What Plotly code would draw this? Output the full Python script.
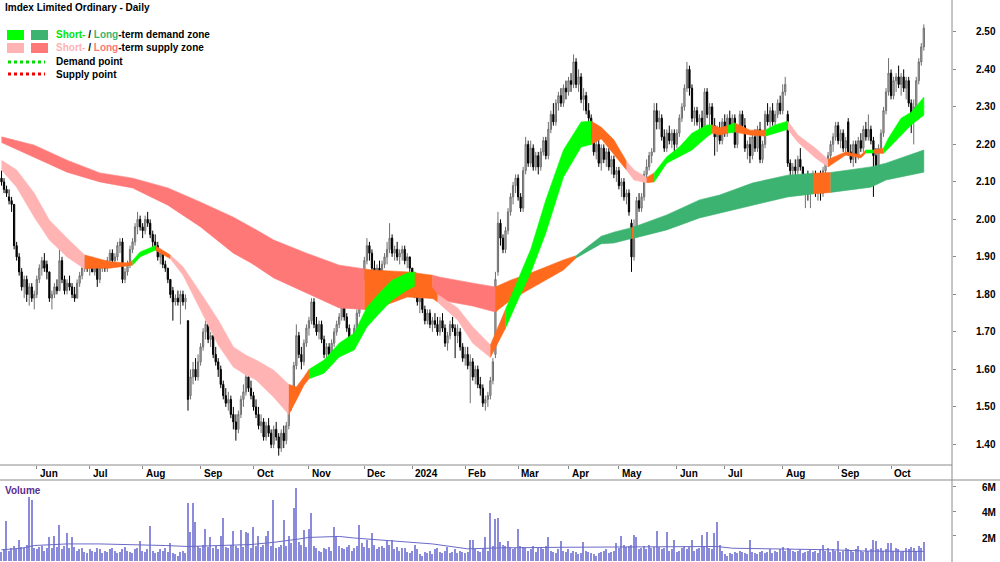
import plotly.graph_objects as go
import pandas as pd

# ---------------- DATA ----------------
# Daily OHLC (A$), trading days from 12 May 2023 to 18 Oct 2024
opens = [
    # May 2023 (from 12th)
    2.11, 2.10, 2.08, 2.06, 2.05, 2.04, 1.93, 1.90, 1.86, 1.82, 1.84, 1.80, 1.82, 1.79,
    # Jun 2023
    1.80, 1.84, 1.87, 1.89, 1.88, 1.86, 1.79, 1.80, 1.82, 1.81, 1.89, 1.84, 1.81, 1.83, 1.82, 1.80, 1.79, 1.83, 1.85, 1.87, 1.89,
    # Jul 2023
    1.87, 1.88, 1.86, 1.87, 1.84, 1.87, 1.88, 1.87, 1.89, 1.91, 1.89, 1.90, 1.93, 1.94, 1.84, 1.86, 1.88, 1.92, 1.94, 1.98, 2.00,
    # Aug 2023
    1.98, 1.97, 2.00, 1.99, 1.96, 1.94, 1.93, 1.90, 1.91, 1.88, 1.87, 1.84, 1.81, 1.78, 1.79, 1.78, 1.80, 1.78, 1.73, 1.53, 1.58, 1.60, 1.58,
    # Sep 2023
    1.62, 1.66, 1.70, 1.72, 1.68, 1.69, 1.64, 1.62, 1.60, 1.56, 1.53, 1.51, 1.52, 1.48, 1.46, 1.44, 1.48, 1.52, 1.54, 1.58, 1.55,
    # Oct 2023
    1.53, 1.50, 1.48, 1.45, 1.46, 1.42, 1.45, 1.43, 1.40, 1.44, 1.42, 1.39, 1.43, 1.41, 1.45, 1.50, 1.53, 1.61, 1.69, 1.64, 1.62, 1.67,
    # Nov 2023
    1.71, 1.73, 1.78, 1.72, 1.70, 1.72, 1.68, 1.64, 1.66, 1.64, 1.67, 1.70, 1.72, 1.74, 1.77, 1.74, 1.71, 1.67, 1.68, 1.71, 1.75, 1.79,
    # Dec 2023
    1.85, 1.89, 1.93, 1.91, 1.87, 1.85, 1.87, 1.85, 1.88, 1.90, 1.92, 1.95, 1.91, 1.92, 1.90, 1.91, 1.92, 1.89, 1.90,
    # Jan 2024
    1.87, 1.82, 1.80, 1.78, 1.79, 1.76, 1.73, 1.75, 1.72, 1.73, 1.72, 1.70, 1.73, 1.71, 1.67, 1.69, 1.72, 1.71, 1.69, 1.70, 1.66,
    # Feb 2024
    1.63, 1.64, 1.61, 1.62, 1.58, 1.60, 1.56, 1.55, 1.51, 1.52, 1.53, 1.57, 1.64, 1.86, 1.99, 1.95, 1.92, 1.97, 2.02, 2.06, 2.09,
    # Mar 2024
    2.11, 2.06, 2.03, 2.13, 2.20, 2.15, 2.19, 2.14, 2.17, 2.14, 2.18, 2.21, 2.17, 2.24, 2.28, 2.26, 2.31, 2.33, 2.31, 2.35,
    # Apr 2024
    2.34, 2.37, 2.36, 2.42, 2.36, 2.38, 2.32, 2.33, 2.29, 2.27, 2.22, 2.18, 2.20, 2.15, 2.19, 2.16, 2.18, 2.14, 2.16, 2.12,
    # May 2024
    2.13, 2.09, 2.10, 2.06, 2.07, 1.99, 1.90, 1.98, 2.05, 2.03, 2.06, 2.12, 2.14, 2.17, 2.18, 2.29, 2.26, 2.27, 2.22, 2.19, 2.23, 2.21, 2.23,
    # Jun 2024
    2.20, 2.23, 2.27, 2.30, 2.35, 2.40, 2.35, 2.27, 2.29, 2.26, 2.27, 2.24, 2.34, 2.28, 2.30, 2.25, 2.22, 2.24, 2.21,
    # Jul 2024
    2.26, 2.23, 2.27, 2.25, 2.27, 2.20, 2.24, 2.28, 2.25, 2.19, 2.20, 2.17, 2.22, 2.19, 2.24, 2.16, 2.20, 2.28, 2.26, 2.29, 2.26, 2.28, 2.31,
    # Aug 2024
    2.29, 2.34, 2.28, 2.15, 2.13, 2.14, 2.13, 2.16, 2.14, 2.08, 2.10, 2.07, 2.09, 2.12, 2.08, 2.11, 2.07, 2.13, 2.15, 2.17, 2.20, 2.22,
    # Sep 2024
    2.25, 2.21, 2.23, 2.19, 2.26, 2.18, 2.16, 2.20, 2.17, 2.21, 2.19, 2.24, 2.22, 2.24, 2.21, 2.17, 2.14, 2.19, 2.23, 2.29, 2.34,
    # Oct 2024
    2.39, 2.33, 2.37, 2.38, 2.36, 2.38, 2.35, 2.37, 2.31, 2.28, 2.30, 2.37, 2.42, 2.46,
]
highs = [
    2.13, 2.11, 2.09, 2.08, 2.06, 2.04, 1.94, 1.91, 1.87, 1.85, 1.85, 1.83, 1.83, 1.81,
    1.85, 1.88, 1.90, 1.91, 1.89, 1.86, 1.81, 1.83, 1.84, 1.92, 1.90, 1.85, 1.84, 1.85, 1.83, 1.82, 1.84, 1.86, 1.88, 1.90, 1.90,
    1.89, 1.90, 1.89, 1.87, 1.88, 1.89, 1.89, 1.90, 1.92, 1.92, 1.91, 1.94, 1.95, 1.95, 1.87, 1.89, 1.93, 1.95, 1.99, 2.02, 2.01,
    1.99, 2.01, 2.02, 2.00, 1.97, 1.96, 1.94, 1.92, 1.91, 1.89, 1.87, 1.84, 1.82, 1.80, 1.81, 1.81, 1.81, 1.80, 1.73, 1.60, 1.62, 1.63, 1.64,
    1.67, 1.71, 1.73, 1.73, 1.70, 1.69, 1.66, 1.63, 1.61, 1.57, 1.55, 1.54, 1.53, 1.50, 1.48, 1.49, 1.53, 1.56, 1.59, 1.59, 1.57,
    1.54, 1.52, 1.50, 1.48, 1.47, 1.46, 1.47, 1.44, 1.45, 1.46, 1.43, 1.44, 1.45, 1.46, 1.51, 1.54, 1.62, 1.72, 1.70, 1.66, 1.68, 1.72,
    1.74, 1.79, 1.79, 1.74, 1.73, 1.73, 1.69, 1.67, 1.67, 1.68, 1.71, 1.73, 1.75, 1.79, 1.78, 1.75, 1.72, 1.69, 1.72, 1.76, 1.80, 1.86,
    1.90, 1.95, 1.94, 1.92, 1.89, 1.88, 1.89, 1.89, 1.91, 1.94, 1.99, 1.96, 1.93, 1.94, 1.92, 1.93, 1.93, 1.91, 1.90,
    1.87, 1.83, 1.82, 1.80, 1.80, 1.77, 1.76, 1.76, 1.74, 1.75, 1.74, 1.74, 1.75, 1.72, 1.70, 1.73, 1.74, 1.72, 1.72, 1.71, 1.67,
    1.66, 1.66, 1.64, 1.63, 1.61, 1.61, 1.58, 1.56, 1.53, 1.54, 1.58, 1.63, 1.86, 2.02, 2.00, 1.96, 1.98, 2.03, 2.07, 2.10, 2.12,
    2.12, 2.07, 2.14, 2.22, 2.21, 2.21, 2.20, 2.18, 2.18, 2.19, 2.22, 2.22, 2.26, 2.29, 2.31, 2.32, 2.34, 2.35, 2.36, 2.37,
    2.38, 2.39, 2.44, 2.43, 2.40, 2.39, 2.35, 2.34, 2.31, 2.28, 2.24, 2.21, 2.22, 2.20, 2.20, 2.19, 2.19, 2.17, 2.17, 2.14,
    2.14, 2.11, 2.11, 2.08, 2.08, 2.00, 2.00, 2.06, 2.07, 2.07, 2.13, 2.16, 2.18, 2.19, 2.31, 2.31, 2.29, 2.28, 2.24, 2.24, 2.25, 2.24, 2.24,
    2.24, 2.28, 2.31, 2.36, 2.42, 2.41, 2.36, 2.30, 2.30, 2.28, 2.29, 2.35, 2.35, 2.31, 2.31, 2.27, 2.25, 2.26, 2.27,
    2.28, 2.28, 2.29, 2.28, 2.28, 2.25, 2.29, 2.29, 2.27, 2.21, 2.22, 2.23, 2.24, 2.25, 2.26, 2.21, 2.29, 2.31, 2.30, 2.31, 2.29, 2.32, 2.33,
    2.36, 2.38, 2.29, 2.16, 2.15, 2.16, 2.17, 2.19, 2.14, 2.12, 2.13, 2.11, 2.13, 2.13, 2.12, 2.13, 2.14, 2.16, 2.18, 2.21, 2.23, 2.26,
    2.26, 2.24, 2.24, 2.22, 2.27, 2.20, 2.21, 2.21, 2.22, 2.23, 2.25, 2.26, 2.28, 2.25, 2.22, 2.19, 2.20, 2.24, 2.30, 2.35, 2.43,
    2.40, 2.38, 2.39, 2.41, 2.39, 2.40, 2.38, 2.38, 2.32, 2.32, 2.38, 2.43, 2.47, 2.52,
]
lows = [
    2.09, 2.07, 2.06, 2.04, 2.02, 1.92, 1.89, 1.85, 1.81, 1.79, 1.78, 1.77, 1.78, 1.76,
    1.79, 1.83, 1.85, 1.86, 1.84, 1.78, 1.76, 1.79, 1.80, 1.81, 1.83, 1.80, 1.80, 1.81, 1.79, 1.78, 1.79, 1.82, 1.84, 1.86, 1.86,
    1.85, 1.86, 1.85, 1.82, 1.83, 1.86, 1.86, 1.86, 1.88, 1.88, 1.88, 1.89, 1.91, 1.83, 1.83, 1.85, 1.87, 1.91, 1.93, 1.96, 1.97,
    1.95, 1.96, 1.98, 1.95, 1.92, 1.92, 1.89, 1.88, 1.87, 1.86, 1.83, 1.79, 1.73, 1.77, 1.77, 1.72, 1.77, 1.76, 1.49, 1.52, 1.56, 1.57, 1.57,
    1.61, 1.65, 1.68, 1.67, 1.66, 1.63, 1.61, 1.58, 1.55, 1.52, 1.50, 1.49, 1.47, 1.44, 1.41, 1.43, 1.47, 1.50, 1.53, 1.54, 1.52,
    1.49, 1.47, 1.44, 1.43, 1.41, 1.41, 1.42, 1.39, 1.39, 1.41, 1.37, 1.38, 1.39, 1.40, 1.44, 1.49, 1.52, 1.60, 1.63, 1.60, 1.61, 1.66,
    1.69, 1.72, 1.71, 1.69, 1.68, 1.67, 1.63, 1.63, 1.63, 1.63, 1.66, 1.69, 1.71, 1.73, 1.73, 1.70, 1.66, 1.65, 1.67, 1.70, 1.74, 1.78,
    1.84, 1.88, 1.89, 1.86, 1.84, 1.84, 1.84, 1.84, 1.87, 1.88, 1.91, 1.90, 1.89, 1.89, 1.88, 1.89, 1.88, 1.87, 1.86,
    1.81, 1.79, 1.77, 1.75, 1.75, 1.72, 1.72, 1.71, 1.70, 1.71, 1.69, 1.69, 1.70, 1.66, 1.65, 1.68, 1.70, 1.63, 1.67, 1.65, 1.62,
    1.61, 1.60, 1.51, 1.57, 1.56, 1.55, 1.53, 1.50, 1.49, 1.50, 1.52, 1.56, 1.63, 1.85, 1.93, 1.91, 1.91, 1.96, 2.01, 2.04, 2.07,
    2.05, 2.02, 2.02, 2.12, 2.14, 2.14, 2.13, 2.13, 2.12, 2.13, 2.17, 2.16, 2.16, 2.23, 2.25, 2.25, 2.29, 2.30, 2.30, 2.32,
    2.33, 2.34, 2.35, 2.35, 2.34, 2.31, 2.29, 2.28, 2.26, 2.21, 2.17, 2.16, 2.14, 2.13, 2.15, 2.14, 2.13, 2.12, 2.11, 2.10,
    2.08, 2.06, 2.05, 2.04, 2.01, 1.86, 1.89, 1.97, 2.02, 2.02, 2.05, 2.11, 2.13, 2.15, 2.18, 2.24, 2.24, 2.21, 2.18, 2.18, 2.20, 2.19, 2.18,
    2.19, 2.22, 2.26, 2.29, 2.34, 2.33, 2.26, 2.25, 2.25, 2.23, 2.23, 2.23, 2.27, 2.25, 2.24, 2.17, 2.18, 2.20, 2.20,
    2.22, 2.22, 2.24, 2.23, 2.19, 2.19, 2.23, 2.24, 2.18, 2.16, 2.15, 2.16, 2.18, 2.18, 2.15, 2.15, 2.19, 2.25, 2.24, 2.25, 2.25, 2.27, 2.28,
    2.28, 2.33, 2.14, 2.10, 2.07, 2.11, 2.12, 2.13, 2.07, 2.03, 2.05, 2.03, 2.07, 2.06, 2.05, 2.05, 2.06, 2.12, 2.14, 2.16, 2.18, 2.21,
    2.20, 2.19, 2.18, 2.17, 2.17, 2.15, 2.14, 2.15, 2.16, 2.18, 2.18, 2.21, 2.21, 2.20, 2.06, 2.12, 2.13, 2.18, 2.22, 2.28, 2.33,
    2.32, 2.32, 2.34, 2.35, 2.33, 2.34, 2.32, 2.30, 2.23, 2.20, 2.29, 2.36, 2.41, 2.45,
]
closes = [
    2.10, 2.08, 2.07, 2.05, 2.04, 1.93, 1.90, 1.86, 1.82, 1.84, 1.80, 1.82, 1.79, 1.80,
    1.84, 1.87, 1.89, 1.87, 1.86, 1.79, 1.80, 1.82, 1.81, 1.89, 1.84, 1.81, 1.83, 1.82, 1.80, 1.79, 1.83, 1.85, 1.87, 1.89, 1.87,
    1.88, 1.86, 1.88, 1.84, 1.87, 1.88, 1.87, 1.89, 1.91, 1.89, 1.90, 1.93, 1.94, 1.84, 1.86, 1.88, 1.92, 1.94, 1.98, 2.00, 1.98,
    1.97, 2.00, 1.99, 1.96, 1.94, 1.93, 1.90, 1.91, 1.88, 1.87, 1.84, 1.80, 1.78, 1.79, 1.78, 1.80, 1.78, 1.79, 1.52, 1.58, 1.60, 1.58, 1.62,
    1.66, 1.70, 1.72, 1.68, 1.69, 1.64, 1.62, 1.60, 1.56, 1.53, 1.51, 1.52, 1.48, 1.46, 1.44, 1.48, 1.52, 1.54, 1.58, 1.55, 1.53,
    1.50, 1.48, 1.45, 1.46, 1.42, 1.45, 1.43, 1.40, 1.44, 1.42, 1.39, 1.43, 1.41, 1.45, 1.50, 1.53, 1.61, 1.69, 1.64, 1.62, 1.67, 1.71,
    1.73, 1.78, 1.72, 1.70, 1.72, 1.68, 1.64, 1.66, 1.64, 1.67, 1.70, 1.72, 1.74, 1.77, 1.74, 1.71, 1.67, 1.68, 1.71, 1.75, 1.79, 1.85,
    1.89, 1.93, 1.91, 1.87, 1.85, 1.87, 1.85, 1.88, 1.90, 1.92, 1.95, 1.91, 1.92, 1.90, 1.91, 1.92, 1.89, 1.90, 1.87,
    1.82, 1.80, 1.78, 1.79, 1.76, 1.73, 1.75, 1.72, 1.73, 1.72, 1.70, 1.73, 1.71, 1.67, 1.69, 1.72, 1.71, 1.69, 1.70, 1.66, 1.63,
    1.64, 1.61, 1.62, 1.58, 1.60, 1.56, 1.55, 1.51, 1.52, 1.53, 1.57, 1.62, 1.84, 1.99, 1.95, 1.92, 1.97, 2.02, 2.06, 2.09, 2.11,
    2.06, 2.03, 2.13, 2.20, 2.15, 2.19, 2.14, 2.17, 2.14, 2.18, 2.21, 2.17, 2.24, 2.28, 2.26, 2.31, 2.33, 2.31, 2.35, 2.34,
    2.37, 2.36, 2.42, 2.36, 2.38, 2.32, 2.33, 2.29, 2.27, 2.22, 2.18, 2.20, 2.15, 2.19, 2.16, 2.18, 2.14, 2.16, 2.12, 2.13,
    2.09, 2.10, 2.06, 2.07, 2.02, 1.90, 1.98, 2.05, 2.03, 2.06, 2.12, 2.14, 2.17, 2.18, 2.29, 2.26, 2.27, 2.22, 2.19, 2.23, 2.21, 2.23, 2.20,
    2.23, 2.27, 2.30, 2.35, 2.40, 2.35, 2.27, 2.29, 2.26, 2.27, 2.24, 2.34, 2.28, 2.30, 2.25, 2.22, 2.24, 2.21, 2.26,
    2.23, 2.27, 2.25, 2.27, 2.20, 2.24, 2.28, 2.25, 2.19, 2.20, 2.17, 2.22, 2.19, 2.24, 2.16, 2.20, 2.28, 2.26, 2.29, 2.26, 2.28, 2.31, 2.29,
    2.34, 2.36, 2.15, 2.13, 2.14, 2.13, 2.16, 2.14, 2.08, 2.10, 2.07, 2.09, 2.12, 2.08, 2.11, 2.07, 2.13, 2.15, 2.17, 2.20, 2.22, 2.25,
    2.21, 2.23, 2.19, 2.21, 2.18, 2.16, 2.20, 2.17, 2.21, 2.19, 2.24, 2.22, 2.24, 2.21, 2.17, 2.14, 2.19, 2.23, 2.29, 2.34, 2.39,
    2.33, 2.37, 2.38, 2.36, 2.38, 2.35, 2.37, 2.31, 2.28, 2.30, 2.37, 2.42, 2.46, 2.51,
]
# Daily volume, millions of shares
volumes = [
    0.7, 0.9, 3.2, 0.8, 1.0, 1.2, 0.9, 1.7, 1.1, 1.0, 1.3, 5.2, 4.9, 1.0, 0.9, 1.1, 1.2, 0.8, 1.0, 1.9,
    1.0, 2.0, 1.1, 2.9, 0.9, 1.2, 2.2, 1.0, 1.9, 1.1, 0.8, 0.9, 1.0, 0.7, 0.6, 0.9, 0.8, 0.7, 1.0, 0.9,
    0.6, 0.8, 0.7, 0.9, 1.0, 0.8, 0.6, 0.7, 0.9, 1.1, 0.8, 0.7, 0.6, 0.9, 1.0, 1.6, 0.8, 0.7, 0.9, 2.8,
    0.8, 0.6, 0.7, 0.9, 0.8, 1.0, 0.7, 1.4, 0.6, 0.5, 0.4, 0.7, 0.8, 0.6, 4.7, 2.3, 4.7, 3.1, 1.2, 1.0,
    1.3, 2.6, 1.1, 1.9, 1.0, 1.2, 0.9, 2.0, 3.5, 1.1, 1.0, 1.3, 2.4, 1.2, 1.0, 2.5, 1.1, 2.3, 2.2, 1.0,
    2.7, 1.2, 2.0, 1.1, 1.3, 2.0, 2.4, 1.2, 4.9, 1.0, 1.1, 1.3, 3.3, 1.2, 2.0, 1.4, 4.3, 5.9, 1.5, 1.3,
    2.5, 1.1, 2.6, 3.9, 1.2, 1.0, 0.8, 0.7, 1.0, 0.9, 1.1, 0.8, 2.7, 2.0, 1.2, 1.0, 0.9, 1.1, 1.3, 0.8,
    1.0, 1.2, 2.9, 1.4, 1.1, 1.7, 1.0, 2.2, 1.3, 0.9, 1.1, 1.2, 1.0, 1.7, 1.3, 1.7, 0.9, 1.1, 0.8, 1.0,
    1.0, 0.7, 0.6, 0.8, 1.3, 0.9, 0.5, 0.4, 0.7, 0.6, 0.8, 0.5, 0.9, 1.0, 0.7, 0.6, 0.8, 1.1, 0.6, 0.7,
    0.9, 0.6, 0.8, 0.7, 0.6, 0.7, 1.7, 1.7, 0.9, 0.8, 0.7, 0.9, 1.9, 0.8, 3.9, 1.2, 3.4, 3.5, 1.5, 1.3,
    1.2, 1.6, 1.1, 0.9, 1.0, 2.6, 1.2, 1.1, 1.0, 0.8, 0.9, 1.2, 0.7, 1.0, 1.1, 0.9, 1.2, 1.9, 0.8, 0.7,
    0.6, 0.9, 1.6, 0.8, 0.7, 0.9, 0.6, 0.8, 0.7, 0.5, 0.6, 1.5, 0.8, 0.7, 0.6, 0.5, 0.4, 0.6, 0.7, 0.8,
    0.9, 0.6, 0.7, 0.8, 1.4, 1.0, 2.0, 1.3, 1.1, 1.2, 1.3, 2.1, 1.9, 0.9, 1.0, 1.2, 0.9, 1.3, 1.0, 1.1,
    2.4, 1.1, 0.9, 1.0, 2.3, 0.8, 0.9, 1.7, 0.7, 0.8, 1.0, 1.2, 0.9, 1.1, 1.7, 0.8, 0.9, 1.0, 2.1, 1.2,
    2.3, 1.0, 0.9, 2.2, 3.1, 1.3, 0.8, 0.5, 0.4, 0.6, 0.5, 0.7, 0.6, 0.8, 0.7, 0.6, 0.5, 1.7, 0.7, 0.6,
    0.5, 0.7, 0.8, 0.6, 0.7, 0.9, 0.6, 0.8, 0.7, 0.9, 1.1, 0.8, 1.0, 0.9, 0.8, 0.7, 0.8, 0.9, 0.6, 0.7,
    0.8, 0.9, 0.7, 0.8, 0.6, 0.9, 1.3, 0.8, 1.0, 0.7, 0.9, 0.8, 1.6, 0.7, 0.8, 1.0, 0.9, 0.8, 0.7, 0.9,
    1.2, 0.8, 0.7, 1.0, 0.8, 0.9, 1.7, 1.6, 0.9, 1.0, 0.8, 0.9, 1.4, 1.4, 0.8, 1.0, 0.9, 0.7, 0.8, 1.0,
    0.9, 1.1, 1.0, 0.8, 1.2, 1.0, 1.5,
]
# Volume moving average (trading-day number, millions)
vol_ma_day = [0, 8, 13, 26, 39, 52, 65, 74, 85, 99, 108, 113, 118, 122, 134, 140, 145, 158, 171, 185,
              198, 224, 251, 284, 290, 310, 330, 343, 366]
vol_ma_val = [0.87, 1.0, 1.22, 1.35, 1.35, 1.3, 1.22, 1.14, 1.22, 1.3, 1.48, 1.6, 1.75, 1.88, 1.96, 1.83,
              1.75, 1.56, 1.35, 0.95, 1.03, 1.08, 1.1, 1.14, 1.0, 0.95, 0.87, 0.77, 0.74]

# Short-term zone (trading-day number, upper, lower, state: S supply / D demand / N neutral)
short_day = [0, 6, 13, 19, 26, 33, 37, 43, 50, 52, 55, 61, 67, 72, 79, 86, 92, 97, 101, 108,
             114, 117, 120, 122, 128, 134, 140, 145, 150, 155, 161, 164, 169, 173, 181, 187, 194, 200, 205, 210,
             216, 223, 230, 234, 238, 243, 248, 251, 256, 259, 264, 269, 274, 280, 282, 285, 288, 291, 297, 303,
             307, 312, 316, 323, 328, 335, 341, 343, 346, 350, 352, 357, 361, 366]
short_top = [2.158, 2.132, 2.070, 1.998, 1.950, 1.905, 1.897, 1.887, 1.884, 1.890, 1.913, 1.930, 1.905, 1.874, 1.804, 1.732, 1.660, 1.638, 1.625, 1.598,
             1.560, 1.553, 1.580, 1.600, 1.625, 1.670, 1.697, 1.766, 1.804, 1.838, 1.857, 1.860, 1.835, 1.800, 1.764, 1.713, 1.665, 1.760, 1.840, 1.920,
             2.052, 2.185, 2.260, 2.262, 2.246, 2.212, 2.155, 2.132, 2.112, 2.124, 2.167, 2.193, 2.230, 2.252, 2.252, 2.244, 2.250, 2.257, 2.238, 2.238,
             2.252, 2.262, 2.225, 2.190, 2.160, 2.180, 2.172, 2.185, 2.185, 2.190, 2.217, 2.270, 2.286, 2.326]
short_bot = [2.132, 2.086, 2.006, 1.945, 1.900, 1.868, 1.870, 1.870, 1.876, 1.878, 1.900, 1.918, 1.895, 1.852, 1.758, 1.665, 1.606, 1.585, 1.572, 1.526,
             1.480, 1.518, 1.558, 1.575, 1.590, 1.633, 1.652, 1.713, 1.750, 1.785, 1.812, 1.822, 1.800, 1.780, 1.732, 1.670, 1.632, 1.710, 1.786, 1.857,
             1.964, 2.113, 2.193, 2.200, 2.215, 2.172, 2.132, 2.105, 2.098, 2.100, 2.150, 2.167, 2.185, 2.220, 2.230, 2.225, 2.230, 2.233, 2.225, 2.222,
             2.230, 2.240, 2.206, 2.164, 2.140, 2.172, 2.164, 2.177, 2.177, 2.176, 2.190, 2.225, 2.252, 2.278]
short_zone = ["S", "S", "S", "S", "S", "N", "N", "N", "N", "D", "D", "N", "S", "S", "S", "S", "S", "S", "S", "S",
              "N", "N", "N", "D", "D", "D", "D", "D", "D", "D", "D", "N", "N", "S", "S", "S", "N", "D", "D", "D",
              "D", "D", "D", "N", "N", "N", "S", "S", "N", "D", "D", "D", "D", "D", "N", "N", "D", "N", "N", "D",
              "D", "S", "S", "S", "N", "N", "N", "D", "N", "D", "D", "D", "D", "D"]

# Long-term zone
long_day = [0, 13, 26, 39, 52, 66, 79, 92, 99, 108, 121, 134, 144, 147, 161, 171, 174, 187, 196, 202,
            210, 216, 223, 228, 238, 243, 250, 251, 264, 277, 285, 298, 312, 322, 329, 345, 351, 366]
long_top = [2.220, 2.198, 2.158, 2.124, 2.110, 2.084, 2.046, 2.006, 1.980, 1.945, 1.910, 1.878, 1.868, 1.865, 1.860, 1.851, 1.846, 1.830, 1.820, 1.838,
            1.857, 1.873, 1.892, 1.903, 1.955, 1.966, 1.978, 1.980, 2.012, 2.052, 2.065, 2.097, 2.118, 2.123, 2.125, 2.140, 2.150, 2.185]
long_bot = [2.205, 2.166, 2.126, 2.100, 2.084, 2.038, 1.980, 1.910, 1.884, 1.844, 1.804, 1.764, 1.760, 1.758, 1.793, 1.789, 1.785, 1.769, 1.753, 1.785,
            1.817, 1.838, 1.865, 1.897, 1.935, 1.937, 1.949, 1.950, 1.972, 2.004, 2.017, 2.038, 2.060, 2.068, 2.072, 2.086, 2.105, 2.126]
long_zone = ["S", "S", "S", "S", "S", "S", "S", "S", "S", "S", "S", "S", "N", "N", "N", "S", "S", "S", "N", "N",
             "N", "N", "N", "D", "D", "D", "N", "D", "D", "D", "D", "D", "D", "N", "D", "D", "D", "D"]

price_ticks = [1.40, 1.50, 1.60, 1.70, 1.80, 1.90, 2.00, 2.10, 2.20, 2.30, 2.40, 2.50]
vol_ticks = [2, 4, 6]
vol_tick_text = ["2M", "4M", "6M"]
month_labels = ["Jun", "Jul", "Aug", "Sep", "Oct", "Nov", "Dec", "2024", "Feb", "Mar",
                "Apr", "May", "Jun", "Jul", "Aug", "Sep", "Oct"]
title_text = "Imdex Limited Ordinary - Daily"

# ---------------- BUILD ----------------
assert len(opens) == len(highs) == len(lows) == len(closes) == len(volumes), (
    len(opens), len(highs), len(lows), len(closes), len(volumes))

holidays = pd.to_datetime(["2023-06-12", "2023-12-25", "2023-12-26", "2024-01-01", "2024-01-26",
                           "2024-03-29", "2024-04-01", "2024-04-25", "2024-06-10"])
alld = pd.bdate_range("2023-05-12", "2024-12-31")
alld = alld[~alld.isin(holidays)]
n = len(closes)
dates = alld[:n]
xi = list(range(n))
month_pos = [i for i in range(1, n) if dates[i].month != dates[i - 1].month]

W, H = 1000, 562
PX_RIGHT = 952
PRICE_BOTTOM = 465
VOL_TOP = 480

def py(p):  # pixel y -> paper
    return 1 - p / H

FONT = "Liberation Sans, Arial, sans-serif"

SHORT_COL = {"S": "#ffb3b3", "D": "#00ff00", "N": "#ff6a1c"}
LONG_COL = {"S": "#ff7878", "D": "#3cb371", "N": "#ff6a1c"}

fig = go.Figure()

def add_band(days, tops, bots, zones, cols):
    k = 0
    m = len(days)
    while k < m - 1:
        z = zones[k]
        j = k
        while j < m - 1 and zones[j] == z:
            j += 1
        xs = list(days[k:j + 1]) + list(days[k:j + 1])[::-1]
        ys = list(tops[k:j + 1]) + list(bots[k:j + 1])[::-1]
        fig.add_trace(go.Scatter(x=xs, y=ys, mode="lines", fill="toself",
                                 fillcolor=cols[z], line=dict(color=cols[z], width=0.6),
                                 hoverinfo="skip", showlegend=False, xaxis="x", yaxis="y"))
        k = j

add_band(long_day, long_top, long_bot, long_zone, LONG_COL)
add_band(short_day, short_top, short_bot, short_zone, SHORT_COL)

fig.add_trace(go.Candlestick(
    x=xi, open=opens, high=highs, low=lows, close=closes,
    increasing=dict(line=dict(color="#6f6f6f", width=1), fillcolor="#b9b9b9"),
    decreasing=dict(line=dict(color="#000000", width=1), fillcolor="#000000"),
    whiskerwidth=0, showlegend=False, xaxis="x", yaxis="y"))

fig.add_trace(go.Bar(x=xi, y=volumes, width=0.55, marker=dict(color="#8b8bdb", line=dict(width=0)),
                     showlegend=False, xaxis="x2", yaxis="y2"))
fig.add_trace(go.Scatter(x=vol_ma_day, y=vol_ma_val, mode="lines", line=dict(color="#6a6ac8", width=1),
                         showlegend=False, xaxis="x2", yaxis="y2"))

xr = [-0.6, (PX_RIGHT - 1.5) / 2.52]
fig.update_layout(
    width=W, height=H, margin=dict(l=0, r=0, t=0, b=0),
    paper_bgcolor="white", plot_bgcolor="white", showlegend=False,
    bargap=0,
    xaxis=dict(domain=[0, PX_RIGHT / W], range=xr, showgrid=False, zeroline=False,
               showticklabels=False, ticks="outside", ticklen=3, tickcolor="#888888",
               tickvals=month_pos, rangeslider=dict(visible=False), anchor="y", fixedrange=True),
    yaxis=dict(domain=[py(PRICE_BOTTOM), 1], range=[1.345, 2.585], side="right", anchor="x",
               showgrid=False, zeroline=False, tickvals=price_ticks, showticklabels=False,
               ticks="outside", ticklen=3, tickcolor="#888888"),
    xaxis2=dict(domain=[0, PX_RIGHT / W], range=xr, showgrid=False, zeroline=False,
                showticklabels=False, ticks="", anchor="y2"),
    yaxis2=dict(domain=[0, py(VOL_TOP)], range=[-0.12, 6.55], side="right", anchor="x2",
                showgrid=False, zeroline=False, tickvals=vol_ticks, showticklabels=False,
                ticks="outside", ticklen=3, tickcolor="#888888"),
)

line_col = "#8a8a8a"
shapes = [
    dict(type="line", xref="paper", yref="paper", x0=PX_RIGHT / W, x1=PX_RIGHT / W, y0=0, y1=1,
         line=dict(color=line_col, width=1)),
    dict(type="line", xref="paper", yref="paper", x0=0, x1=PX_RIGHT / W, y0=py(PRICE_BOTTOM), y1=py(PRICE_BOTTOM),
         line=dict(color=line_col, width=1)),
    dict(type="line", xref="paper", yref="paper", x0=0, x1=1, y0=py(VOL_TOP), y1=py(VOL_TOP),
         line=dict(color=line_col, width=1)),
]
# legend swatches
def rect(x0, y0, x1, y1, c):
    return dict(type="rect", xref="paper", yref="paper", x0=x0 / W, x1=x1 / W, y0=py(y1), y1=py(y0),
                fillcolor=c, line=dict(width=0))
shapes += [rect(7, 30, 24, 40, SHORT_COL["D"]), rect(31, 30, 48, 40, LONG_COL["D"]),
           rect(7, 43, 24, 53, SHORT_COL["S"]), rect(31, 43, 48, 53, LONG_COL["S"])]
shapes += [dict(type="line", xref="paper", yref="paper", x0=8 / W, x1=45 / W, y0=py(62), y1=py(62),
                line=dict(color="#00dd00", width=3, dash="dot")),
           dict(type="line", xref="paper", yref="paper", x0=8 / W, x1=45 / W, y0=py(74), y1=py(74),
                line=dict(color="#ee0000", width=3, dash="dot"))]
fig.update_layout(shapes=shapes)

ann = []
def txt(x, y, t, size=10, color="black", anchor="left"):
    ann.append(dict(xref="paper", yref="paper", x=x / W, y=py(y), text=t, showarrow=False,
                    xanchor=anchor, yanchor="middle", font=dict(family=FONT, size=size, color=color)))

txt(3, 8, "<b>" + title_text + "</b>")
txt(54, 35, "<b><span style='color:#00e600'>Short-</span> / <span style='color:#3cb371'>Long</span>-term demand zone</b>")
txt(54, 48, "<b><span style='color:#ffb3b3'>Short-</span> / <span style='color:#ff7878'>Long</span>-term supply zone</b>")
txt(54, 62, "<b>Demand point</b>")
txt(54, 74, "<b>Supply point</b>")
txt(3, 490, "<b>Volume</b>", color="#5a2d91")

for p in price_ticks:
    ypix = (2.585 - p) * 375
    txt(998, ypix, "<b>%.2f</b>" % p, anchor="right")
for v, t in zip(vol_ticks, vol_tick_text):
    ypix = 563.5 - v * 12.75
    txt(998, ypix, "<b>%s</b>" % t, anchor="right")

for pos, lab in zip(month_pos, month_labels):
    ann.append(dict(xref="x", yref="paper", x=pos, y=py(473), text="<b>%s</b>" % lab, showarrow=False,
                    xanchor="left", yanchor="middle", xshift=1, font=dict(family=FONT, size=10, color="black")))

fig.update_layout(annotations=ann)
fig.write_html("out.html")
